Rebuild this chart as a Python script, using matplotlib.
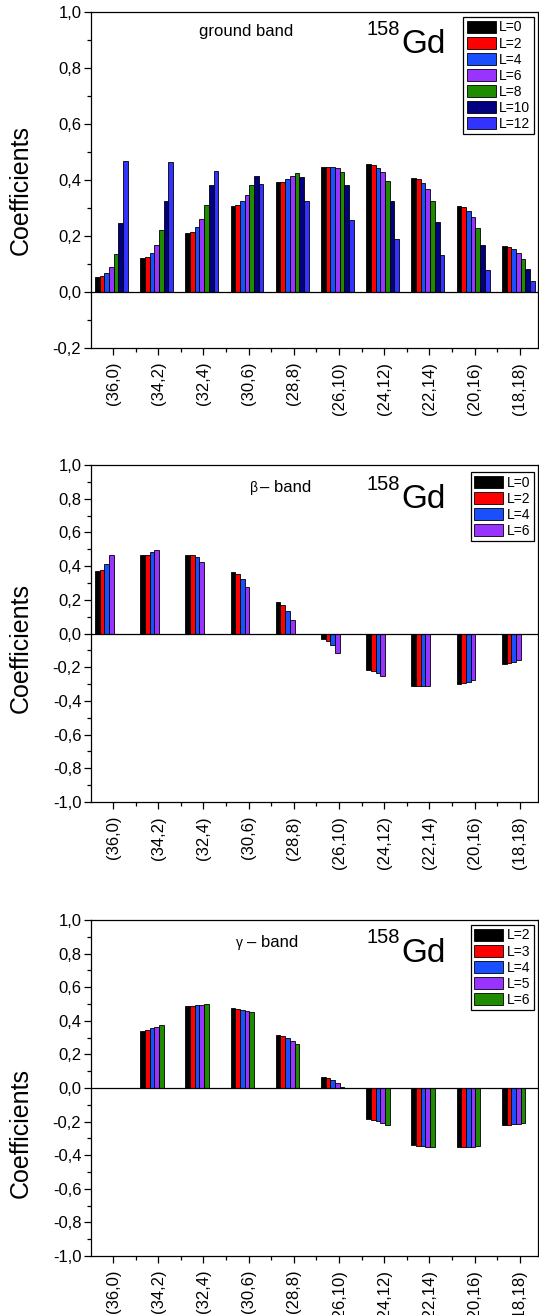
import numpy as np
import matplotlib
matplotlib.use("Agg")
import matplotlib.pyplot as plt
from matplotlib.ticker import MultipleLocator, FuncFormatter, FixedLocator

plt.rcParams['font.family'] = ['Liberation Sans', 'DejaVu Sans']

categories = ["(36,0)", "(34,2)", "(32,4)", "(30,6)", "(28,8)",
              "(26,10)", "(24,12)", "(22,14)", "(20,16)", "(18,18)"]

# ground band, L = 0..12
g_L0 = [0.054, 0.121, 0.210, 0.306, 0.392, 0.448, 0.456, 0.407, 0.307, 0.165]
g_L2 = [0.058, 0.126, 0.215, 0.311, 0.394, 0.448, 0.454, 0.402, 0.302, 0.162]
g_L4 = [0.068, 0.140, 0.232, 0.326, 0.402, 0.448, 0.444, 0.390, 0.290, 0.155]
g_L6 = [0.089, 0.169, 0.261, 0.348, 0.413, 0.443, 0.429, 0.368, 0.268, 0.140]
g_L8 = [0.136, 0.223, 0.310, 0.381, 0.424, 0.430, 0.395, 0.326, 0.230, 0.118]
g_L10 = [0.245, 0.325, 0.383, 0.414, 0.412, 0.382, 0.326, 0.251, 0.168, 0.083]
g_L12 = [0.469, 0.464, 0.433, 0.385, 0.324, 0.257, 0.190, 0.132, 0.080, 0.038]

# beta band, L = 0..6
b_L0 = [0.368, 0.463, 0.467, 0.366, 0.184, -0.034, -0.214, -0.312, -0.299, -0.180]
b_L2 = [0.378, 0.467, 0.463, 0.354, 0.170, -0.044, -0.222, -0.313, -0.295, -0.178]
b_L4 = [0.411, 0.481, 0.453, 0.326, 0.136, -0.069, -0.233, -0.313, -0.287, -0.170]
b_L6 = [0.467, 0.495, 0.425, 0.275, 0.079, -0.115, -0.255, -0.311, -0.273, -0.160]

# gamma band, L = 2..6 (no (36,0) state)
y_L2 = [np.nan, 0.341, 0.488, 0.476, 0.315, 0.067, -0.183, -0.339, -0.353, -0.222]
y_L3 = [np.nan, 0.347, 0.488, 0.470, 0.308, 0.058, -0.188, -0.343, -0.353, -0.220]
y_L4 = [np.nan, 0.355, 0.492, 0.466, 0.296, 0.046, -0.196, -0.347, -0.351, -0.214]
y_L5 = [np.nan, 0.365, 0.494, 0.460, 0.282, 0.030, -0.208, -0.349, -0.351, -0.214]
y_L6 = [np.nan, 0.377, 0.498, 0.450, 0.264, 0.008, -0.222, -0.351, -0.347, -0.210]

c_black, c_red, c_blue = "#000000", "#ff0000", "#1a4fff"
c_purple, c_green, c_navy, c_bv = "#9933ff", "#1f8c00", "#000080", "#3333ff"

panels = [
    dict(series=[g_L0, g_L2, g_L4, g_L6, g_L8, g_L10, g_L12],
         labels=["L=0", "L=2", "L=4", "L=6", "L=8", "L=10", "L=12"],
         colors=[c_black, c_red, c_blue, c_purple, c_green, c_navy, c_bv],
         ylim=(-0.2, 1.0), rect=[0.1688, 0.7354, 0.8293, 0.2555],
         greek=None, title="ground band", tx=0.346, ty=0.929, ha="center",
         g158=0.932, gd=0.878, leg_top=0.985, ylab=0.470),
    dict(series=[b_L0, b_L2, b_L4, b_L6],
         labels=["L=0", "L=2", "L=4", "L=6"],
         colors=[c_black, c_red, c_blue, c_purple],
         ylim=(-1.0, 1.0), rect=[0.1688, 0.3901, 0.8293, 0.2563],
         greek=("β", 0.356), title="– band", tx=0.378, ty=0.920, ha="left",
         g158=0.926, gd=0.872, leg_top=0.979, ylab=0.457),
    dict(series=[y_L2, y_L3, y_L4, y_L5, y_L6],
         labels=["L=2", "L=3", "L=4", "L=5", "L=6"],
         colors=[c_black, c_red, c_blue, c_purple, c_green],
         ylim=(-1.0, 1.0), rect=[0.1688, 0.0449, 0.8293, 0.2555],
         greek=("γ", 0.324), title="– band", tx=0.348, ty=0.920, ha="left",
         g158=0.932, gd=0.875, leg_top=0.985, ylab=0.366),
]

fig = plt.figure(figsize=(5.39, 13.15), dpi=100)
x = np.arange(len(categories))
w = 0.104

for p in panels:
    ax = fig.add_axes(p["rect"])
    for i, (vals, lab, col) in enumerate(zip(p["series"], p["labels"], p["colors"])):
        vals = np.array(vals, dtype=float)
        ok = ~np.isnan(vals)
        xs = x - 0.40 + w * (i + 0.5)
        ax.bar(xs[ok], vals[ok], width=w, color=col, edgecolor="black",
               linewidth=0.6, label=lab, zorder=2)
    ax.axhline(0, color="black", linewidth=0.9, zorder=3)
    ax.set_xlim(-0.487, 9.40)
    ax.set_ylim(*p["ylim"])
    ax.set_xticks(x)
    ax.set_xticklabels(categories, rotation=90, fontsize=12)
    ax.xaxis.set_minor_locator(FixedLocator(x[:-1] + 0.5))
    ax.yaxis.set_major_locator(MultipleLocator(0.2))
    ax.yaxis.set_minor_locator(MultipleLocator(0.1))
    ax.yaxis.set_major_formatter(FuncFormatter(lambda v, pos: f"{v:.1f}".replace(".", ",").replace("-0,0", "0,0")))
    ax.tick_params(axis="both", which="major", direction="out", length=5, width=0.9, labelsize=12)
    ax.tick_params(axis="both", which="minor", direction="out", length=3, width=0.9)
    ax.tick_params(axis="x", which="major", pad=5)
    ax.tick_params(axis="y", which="major", pad=2)
    for s in ax.spines.values():
        s.set_linewidth(0.9)
    ax.set_ylabel("Coefficients", fontsize=18)
    ax.yaxis.set_label_coords(-0.130, p["ylab"])

    if p["greek"]:
        ax.text(p["greek"][1], p["ty"], p["greek"][0], transform=ax.transAxes,
                fontsize=10, ha="left", va="baseline")
    ax.text(p["tx"], p["ty"], p["title"], transform=ax.transAxes, fontsize=12,
            ha=p["ha"], va="baseline")
    ax.text(0.617, p["g158"], "158", transform=ax.transAxes, fontsize=14.5,
            ha="left", va="baseline")
    ax.text(0.695, p["gd"], "Gd", transform=ax.transAxes, fontsize=24,
            ha="left", va="baseline")

    leg = ax.legend(loc="upper right", bbox_to_anchor=(0.991, p["leg_top"]),
                    fontsize=10, handlelength=2.1, handleheight=1.0,
                    labelspacing=0.15, handletextpad=0.25, borderpad=0.25,
                    borderaxespad=0, fancybox=False, framealpha=1,
                    edgecolor="black")
    leg.get_frame().set_linewidth(0.9)

fig.savefig("out.png", dpi=100)
